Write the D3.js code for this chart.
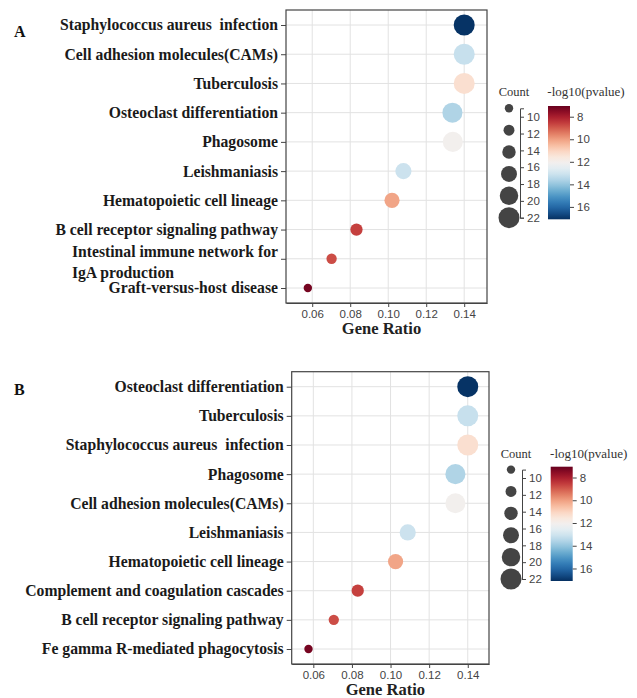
<!DOCTYPE html>
<html>
<head>
<meta charset="utf-8">
<script src="https://cdn.jsdelivr.net/npm/d3@7"></script>
<style>
body { margin: 0; background: #fff; }
svg { display: block; }
</style>
</head>
<body>
<svg id="chart" width="637" height="698"></svg>
<script>
// panel A
const termsA = ['Staphylococcus aureus  infection', 'Cell adhesion molecules(CAMs)', 'Tuberculosis',
    'Osteoclast differentiation', 'Phagosome', 'Leishmaniasis', 'Hematopoietic cell lineage',
    'B cell receptor signaling pathway', 'Intestinal immune network for\nIgA production', 'Graft-versus-host disease']
const ratioA = [0.140, 0.140, 0.140, 0.1338, 0.134, 0.108, 0.102, 0.0833, 0.0702, 0.0577]
const countA = [22, 22, 22, 21, 21, 17, 16, 13, 11, 9]
const logpA = [17.05, 13.2, 11.3, 13.6, 12.05, 13.1, 10.1, 8.6, 8.8, 7.25]

// panel B
const termsB = ['Osteoclast differentiation', 'Tuberculosis', 'Staphylococcus aureus  infection', 'Phagosome',
    'Cell adhesion molecules(CAMs)', 'Leishmaniasis', 'Hematopoietic cell lineage',
    'Complement and coagulation cascades', 'B cell receptor signaling pathway', 'Fe gamma R-mediated phagocytosis']
const ratioB = [0.140, 0.140, 0.140, 0.1336, 0.1336, 0.1089, 0.1026, 0.083, 0.0706, 0.0575]
const countB = [22, 22, 22, 21, 21, 17, 16, 13, 11, 9]
const logpB = [17.05, 13.2, 11.3, 13.6, 12.05, 13.1, 10.1, 8.6, 8.8, 7.25]

const ratioTicks = [0.06, 0.08, 0.10, 0.12, 0.14]
const legendCounts = [9, 11.6, 14.2, 16.8, 19.4, 22]
const countTicks = [10, 12, 14, 16, 18, 20, 22]
const logpTicks = [8, 10, 12, 14, 16]

const svg = d3.select('#chart')

const rScale = d3.scaleLinear().domain([9, 22]).range([4.2, 10.5])
const colorScale = d3.scaleSequential(d3.interpolateRdBu).domain([7.05, 17.1])

// gradient for colour bars (top = low value = red)
const grad = svg.append('defs').append('linearGradient')
    .attr('id', 'rdbu').attr('x1', 0).attr('x2', 0).attr('y1', 0).attr('y2', 1)
grad.selectAll('stop')
    .data(d3.range(0, 1.0001, 0.05))
    .join('stop')
    .attr('offset', d => d)
    .attr('stop-color', d => d3.interpolateRdBu(d))

const serif = '"Liberation Serif", "Times New Roman", serif'
const sans = '"Liberation Sans", Arial, sans-serif'

function drawPanel(cfg) {
    const g = svg.append('g')
    const x = d3.scaleLinear().domain(cfg.xDomain).range([cfg.left, cfg.right])
    const y = d3.scalePoint().domain(cfg.terms).range([cfg.top + 15, cfg.bottom - 15])

    // grid
    g.selectAll('.vgrid').data(ratioTicks).join('line')
        .attr('x1', d => x(d)).attr('x2', d => x(d))
        .attr('y1', cfg.top).attr('y2', cfg.bottom)
        .attr('stroke', '#e2e2e2')
    g.selectAll('.hgrid').data(cfg.terms).join('line')
        .attr('x1', cfg.left).attr('x2', cfg.right)
        .attr('y1', d => y(d)).attr('y2', d => y(d))
        .attr('stroke', '#e2e2e2')

    // frame
    g.append('rect')
        .attr('x', cfg.left).attr('y', cfg.top)
        .attr('width', cfg.right - cfg.left).attr('height', cfg.bottom - cfg.top)
        .attr('fill', 'none').attr('stroke', '#444').attr('stroke-width', 1.2)

    // x axis
    const xAxis = g.append('g')
        .attr('transform', `translate(0,${cfg.bottom})`)
        .call(d3.axisBottom(x).tickValues(ratioTicks).tickFormat(d3.format('.2f')).tickSize(4).tickSizeOuter(0))
    xAxis.select('.domain').attr('stroke', '#444').attr('stroke-width', 1.2)
    xAxis.selectAll('line').attr('stroke', '#444')
    xAxis.selectAll('text').attr('font-family', sans).attr('font-size', 11.5).attr('fill', '#444')

    g.append('text')
        .text('Gene Ratio')
        .attr('x', (cfg.left + cfg.right) / 2 - 5)
        .attr('y', cfg.bottom + 31)
        .attr('text-anchor', 'middle')
        .attr('font-family', serif).attr('font-weight', 'bold').attr('font-size', 16.5)
        .attr('fill', '#222')

    // y axis ticks
    const yAxis = g.append('g')
        .attr('transform', `translate(${cfg.left},0)`)
        .call(d3.axisLeft(y).tickSize(5).tickSizeOuter(0).tickFormat(''))
    yAxis.select('.domain').remove()
    yAxis.selectAll('line').attr('stroke', '#444')

    // y labels
    cfg.terms.forEach(t => {
        const lines = t.split('\n')
        const txt = g.append('text')
            .attr('font-family', serif).attr('font-weight', 'bold').attr('font-size', 15.7)
            .attr('fill', '#1a1a1a')
            .style('white-space', 'pre')
        if (lines.length === 1) {
            txt.text(t)
                .attr('x', cfg.left - 8).attr('y', y(t)).attr('dy', '0.35em')
                .attr('text-anchor', 'end')
        } else {
            const first = txt.append('tspan').text(lines[0])
            const w = first.node().getComputedTextLength()
            const x0 = cfg.left - 8 - w
            first.attr('x', x0).attr('y', y(t) - 2)
            txt.append('tspan').text(lines[1]).attr('x', x0).attr('y', y(t) + 19)
        }
    })

    // points
    g.selectAll('circle.dot')
        .data(cfg.terms.map((t, i) => ({ t, r: cfg.ratio[i], c: cfg.count[i], p: cfg.logp[i] })))
        .join('circle')
        .attr('class', 'dot')
        .attr('cx', d => x(d.r))
        .attr('cy', d => y(d.t))
        .attr('r', d => rScale(d.c))
        .attr('fill', d => colorScale(d.p))

    // panel letter
    g.append('text')
        .text(cfg.letter)
        .attr('x', 14).attr('y', cfg.letterY)
        .attr('font-family', serif).attr('font-weight', 'bold').attr('font-size', 16)
        .attr('fill', '#111')

    // size legend
    const lg = cfg.legend
    const sy = d3.scaleLinear().domain([9, 22]).range([lg.sTop, lg.sBottom])
    g.append('text').text('Count')
        .attr('x', lg.axisX - 6).attr('y', lg.titleY)
        .attr('text-anchor', 'middle')
        .attr('font-family', serif).attr('font-size', 12.5).attr('fill', '#333')
    g.selectAll('circle.leg').data(legendCounts).join('circle')
        .attr('class', 'leg')
        .attr('cx', lg.axisX - 11).attr('cy', d => sy(d))
        .attr('r', d => rScale(d))
        .attr('fill', '#444')
    const sAxis = g.append('g')
        .attr('transform', `translate(${lg.axisX},0)`)
        .call(d3.axisRight(sy).tickValues(countTicks).tickSize(4).tickSizeOuter(4))
    sAxis.selectAll('path, line').attr('stroke', '#444')
    sAxis.selectAll('text').attr('font-family', sans).attr('font-size', 11.5).attr('fill', '#444')

    // colour bar
    const cy = d3.scaleLinear().domain([7.05, 17.1]).range([lg.cTop, lg.cBottom])
    g.append('text').text('-log10(pvalue)')
        .attr('x', lg.cX + 38).attr('y', lg.titleY)
        .attr('text-anchor', 'middle')
        .attr('font-family', serif).attr('font-size', 13).attr('fill', '#333')
    g.append('rect')
        .attr('x', lg.cX).attr('y', lg.cTop)
        .attr('width', 22).attr('height', lg.cBottom - lg.cTop)
        .attr('fill', 'url(#rdbu)')
    const cAxis = g.append('g')
        .attr('transform', `translate(${lg.cX + 22},0)`)
        .call(d3.axisRight(cy).tickValues(logpTicks).tickSize(4).tickSizeOuter(0))
    cAxis.select('.domain').remove()
    cAxis.selectAll('line').attr('stroke', '#444')
    cAxis.selectAll('text').attr('font-family', sans).attr('font-size', 11.5).attr('fill', '#444')
}

drawPanel({
    letter: 'A', letterY: 37,
    terms: termsA, ratio: ratioA, count: countA, logp: logpA,
    left: 286, right: 487, top: 10, bottom: 303,
    xDomain: [0.0462, 0.152],
    legend: { titleY: 96, axisX: 520, sTop: 108.3, sBottom: 217.7, cX: 548, cTop: 106, cBottom: 219.3 }
})

drawPanel({
    letter: 'B', letterY: 395,
    terms: termsB, ratio: ratioB, count: countB, logp: logpB,
    left: 291.7, right: 489, top: 371.7, bottom: 664,
    xDomain: [0.0488, 0.151],
    legend: { titleY: 458, axisX: 522, sTop: 469.6, sBottom: 579, cX: 550.7, cTop: 466.7, cBottom: 581 }
})
</script>
</body>
</html>
